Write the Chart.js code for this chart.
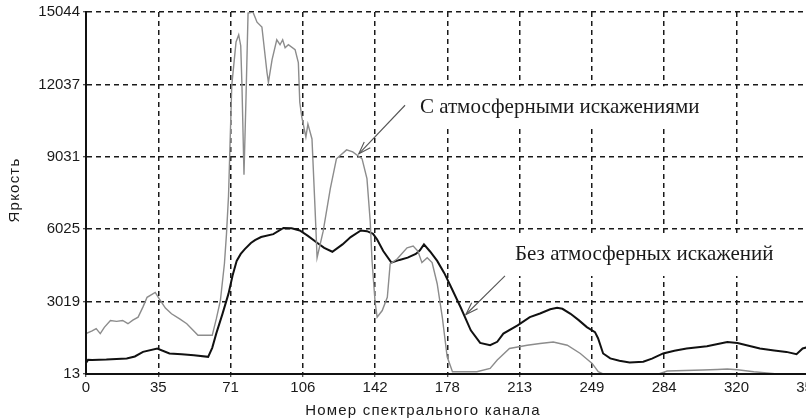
<!DOCTYPE html>
<html><head><meta charset="utf-8">
<script src="https://cdn.jsdelivr.net/npm/chart.js@4"></script>
<style>html,body{margin:0;padding:0;background:#fff;overflow:hidden;width:806px;height:420px}canvas{display:block}</style>
</head><body><canvas id="c" width="830" height="420"></canvas>
<script>
const xTickValues = [0, 35.5, 71, 106.5, 142, 177.5, 213, 248.5, 284, 319.5, 355];
const xTickLabels = ['0', '35', '71', '106', '142', '178', '213', '249', '284', '320', '355'];
const yTickValues = [13, 3019, 6025, 9031, 12037, 15044];
const yTickLabels = ['13', '3019', '6025', '9031', '12037', '15044'];

const xAxisTitle = 'Номер спектрального канала';
const yAxisTitle = 'Яркость';
const seriesNames = ['С атмосферными искажениями', 'Без атмосферных искажений'];

// Series with atmospheric distortion (grey)
const greyCh = [0, 3, 5, 7, 9, 12, 15, 18, 20.6, 23, 25.6, 28, 30, 34, 36, 39, 42, 46, 49.5, 55, 62, 64, 66, 68, 69, 70, 71.6, 73.7, 75, 76, 76.6, 77.6, 78.6, 79.6, 82, 84, 86.4, 88.9, 89.6, 91.4, 93.7, 95.3, 96.6, 97.8, 99.4, 102.7, 104.3, 105, 106, 108, 109, 111, 112.5, 113.5, 116.5, 120, 123, 128, 131, 135.6, 138, 139.6, 140.5, 142, 143, 145.5, 148, 149.4, 152.8, 157.7, 160.7, 163, 165, 167.6, 170, 172.5, 175, 177.4, 180, 192, 198.5, 202, 208, 216.7, 223, 229.5, 236.4, 242.8, 248.6, 251.6, 254, 258, 280.6, 285.5, 303, 310, 315, 320, 328, 339.6, 345, 362];
const greyVal = [1689, 1800, 1895, 1689, 1950, 2237, 2200, 2237, 2101, 2250, 2373, 2800, 3196, 3402, 3128, 2750, 2512, 2300, 2101, 1619, 1619, 2300, 3060, 4600, 5820, 7400, 11996, 13800, 14097, 13644, 12000, 8290, 11500, 15002, 15044, 14620, 14420, 12532, 12120, 13067, 13890, 13685, 13890, 13561, 13685, 13479, 12943, 11296, 10679, 9855, 10390, 9773, 6890, 4843, 5943, 7714, 8949, 9320, 9237, 8949, 8125, 6355, 4708, 3000, 2373, 2648, 3196, 4584, 4790, 5255, 5325, 5120, 4638, 4843, 4638, 3760, 2373, 725, 108, 108, 246, 590, 1071, 1207, 1277, 1343, 1207, 866, 454, 108, 20, 0, 0, 137, 178, 200, 219, 190, 108, 20, 0, 0];

// Series without atmospheric distortion (black)
const blackCh = [0, 1, 3, 10, 20, 24, 28, 35, 41, 47, 53, 60, 62, 64, 67, 70, 72, 74, 76, 78, 81, 83, 86, 92, 97, 101, 105, 109, 113.5, 117, 121, 126, 130, 135, 138, 141, 143, 146, 150, 154, 158, 162, 164, 166, 169, 172.5, 176, 179, 184, 189, 193.6, 198.5, 202, 205, 212, 218, 223, 228, 231.4, 234, 238, 242, 246, 250, 251.5, 254, 257.5, 262, 267, 273.7, 278, 283.5, 289, 295, 305, 315, 320, 325, 331, 338, 344, 349, 352, 362];
const blackVal = [466, 600, 590, 610, 660, 740, 931, 1071, 866, 830, 795, 725, 1100, 1700, 2500, 3350, 4100, 4708, 5000, 5200, 5450, 5572, 5700, 5820, 6079, 6060, 5972, 5750, 5460, 5250, 5090, 5395, 5700, 5972, 5943, 5833, 5600, 5120, 4638, 4750, 4843, 5000, 5148, 5395, 5100, 4708, 4200, 3678, 2785, 1825, 1302, 1207, 1350, 1689, 2031, 2373, 2525, 2700, 2760, 2720, 2512, 2250, 1960, 1750, 1500, 866, 660, 560, 495, 520, 650, 866, 980, 1071, 1166, 1343, 1302, 1200, 1071, 990, 931, 837, 1071, 1300];

const toPoints = (xs, ys) => xs.map((x, i) => ({ x: x, y: ys[i] }));

// annotation anchors in data units
const annotations = [
  { text: seriesNames[0], ch: 164, val: 11090, from: [156.7, 11172], to: [134, 9155], padL: 15, padR: 32, padT: 21, padB: 20 },
  { text: seriesNames[1], ch: 210.7, val: 4996, from: [205.8, 4090], to: [186.6, 2484], padL: 10, padR: 8, padT: 21, padB: 22 }
];

const annFont = '21px "Liberation Serif", "Times New Roman", serif';

const annPlugin = {
  id: 'ann',
  beforeDatasetsDraw(chart) {
    const { ctx, scales: { x, y } } = chart;
    ctx.save();
    ctx.font = annFont;
    annotations.forEach(a => {
      const px = x.getPixelForValue(a.ch), py = y.getPixelForValue(a.val);
      const w = ctx.measureText(a.text).width;
      ctx.fillStyle = '#fff';
      ctx.fillRect(px - a.padL, py - a.padT, w + a.padL + a.padR, a.padT + a.padB);
    });
    ctx.restore();
  },
  afterDraw(chart) {
    const { ctx, scales: { x, y } } = chart;
    ctx.save();
    ctx.font = annFont;
    ctx.fillStyle = '#1a1a1a';
    ctx.textBaseline = 'middle';
    ctx.textAlign = 'left';
    annotations.forEach(a => {
      ctx.fillText(a.text, x.getPixelForValue(a.ch), y.getPixelForValue(a.val));
      const x1 = x.getPixelForValue(a.from[0]), y1 = y.getPixelForValue(a.from[1]);
      const x2 = x.getPixelForValue(a.to[0]), y2 = y.getPixelForValue(a.to[1]);
      ctx.strokeStyle = '#555';
      ctx.lineWidth = 1.1;
      ctx.beginPath(); ctx.moveTo(x1, y1); ctx.lineTo(x2, y2); ctx.stroke();
      const ang = Math.atan2(y2 - y1, x2 - x1), L = 13, sp = 0.33;
      ctx.beginPath();
      ctx.moveTo(x2 - L * Math.cos(ang - sp), y2 - L * Math.sin(ang - sp));
      ctx.lineTo(x2, y2);
      ctx.lineTo(x2 - L * Math.cos(ang + sp), y2 - L * Math.sin(ang + sp));
      ctx.stroke();
    });
    // axis titles
    ctx.font = '15px "Liberation Sans", Arial, sans-serif';
    ctx.fillStyle = '#1a1a1a';
    ctx.textAlign = 'center';
    ctx.letterSpacing = '1.2px';
    ctx.fillText(xAxisTitle, 423, 411);
    ctx.translate(15, 190);
    ctx.rotate(-Math.PI / 2);
    ctx.fillText(yAxisTitle, 0, 0);
    ctx.restore();
  }
};

new Chart(document.getElementById('c').getContext('2d'), {
  type: 'line',
  data: {
    datasets: [
      { label: seriesNames[0], data: toPoints(greyCh, greyVal), borderColor: '#8c8c8c', borderWidth: 1.4, pointRadius: 0, tension: 0, clip: 0 },
      { label: seriesNames[1], data: toPoints(blackCh, blackVal), borderColor: '#111', borderWidth: 2, pointRadius: 0, tension: 0, clip: 0 }
    ]
  },
  options: {
    responsive: false,
    animation: false,
    events: [],
    layout: { padding: { left: 0, right: 7, top: 9, bottom: 0 } },
    plugins: { legend: { display: false }, tooltip: { enabled: false } },
    scales: {
      x: {
        type: 'linear', min: 0, max: 362,
        afterBuildTicks: s => { s.ticks = xTickValues.map(v => ({ value: v })); },
        afterFit: s => { s.height = 46; },
        ticks: { autoSkip: false, maxRotation: 0, padding: 2, color: '#1a1a1a', font: { family: '"Liberation Sans", Arial, sans-serif', size: 15 }, callback: (v, i) => xTickLabels[i] },
        grid: { color: '#1a1a1a', lineWidth: 1.5, tickLength: 3, tickColor: '#1a1a1a', tickWidth: 1 },
        border: { color: '#111', width: 2, dash: [5, 4], z: 1 }
      },
      y: {
        type: 'linear', min: 13, max: 15044,
        afterBuildTicks: s => { s.ticks = yTickValues.map(v => ({ value: v })); },
        afterFit: s => { s.width = 86; },
        ticks: { autoSkip: false, padding: 3, color: '#1a1a1a', font: { family: '"Liberation Sans", Arial, sans-serif', size: 15 }, callback: (v, i) => yTickLabels[i] },
        grid: { color: '#1a1a1a', lineWidth: 1.5, tickLength: 3, tickColor: '#1a1a1a', tickWidth: 1 },
        border: { color: '#111', width: 2, dash: [5, 4], z: 1 }
      }
    }
  },
  plugins: [annPlugin]
});
</script></body></html>
